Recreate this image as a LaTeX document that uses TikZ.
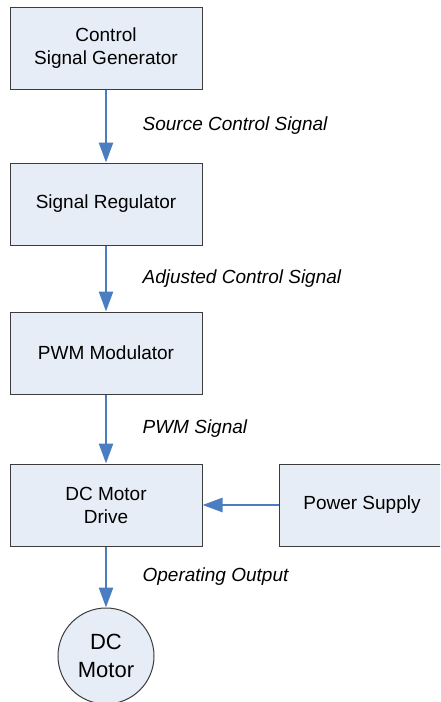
\documentclass[tikz,border=0pt]{standalone}
\usepackage{fontspec}
\setmainfont{Liberation Sans}
\usetikzlibrary{arrows.meta, positioning}
\definecolor{boxfill}{RGB}{230,237,247}
\definecolor{boxline}{RGB}{60,60,60}
\definecolor{flowblue}{RGB}{74,126,193}

\begin{document}
\begin{tikzpicture}[x=1pt, y=-1pt, node distance=69pt,
  every node/.style={font=\fontsize{19}{23}\selectfont, align=center},
  block/.style={rectangle, draw=boxline, line width=1pt, fill=boxfill, minimum width=192pt, minimum height=82pt, inner sep=0pt},
  flow/.style={draw=flowblue, line width=2.6pt, -{Triangle[length=20pt, width=14pt]}},
  siglabel/.style={font=\fontsize{19}{23}\selectfont\itshape, anchor=west, xshift=32pt}]
\useasboundingbox (0,0) rectangle (440,702);
\clip (0,0) rectangle (440,702);
\node (generator) [block] at (106,48) {Control\\Signal Generator};
\node (regulator) [block, below=73pt of generator] {Signal Regulator};
\node (modulator) [block, below=66pt of regulator] {PWM Modulator};
\node (drive) [block, below=69pt of modulator] {DC Motor\\Drive};
\node (supply) [block, minimum width=166pt, right=76pt of drive] {Power Supply};
\node (motor) [circle, draw=boxline, line width=1pt, fill=boxfill, minimum size=96pt, inner sep=0pt, font=\fontsize{22}{28}\selectfont, below=61pt of drive] {DC\\Motor};

\draw[flow] (generator) -- (regulator) node[midway, siglabel] {Source Control Signal};
\draw[flow] (regulator) -- (modulator) node[midway, siglabel] {Adjusted Control Signal};
\draw[flow] (modulator) -- (drive) node[midway, siglabel] {PWM Signal};
\draw[flow] (drive) -- (motor) node[midway, siglabel] {Operating Output};
\draw[flow] (supply) -- (drive);
\end{tikzpicture}
\end{document}
